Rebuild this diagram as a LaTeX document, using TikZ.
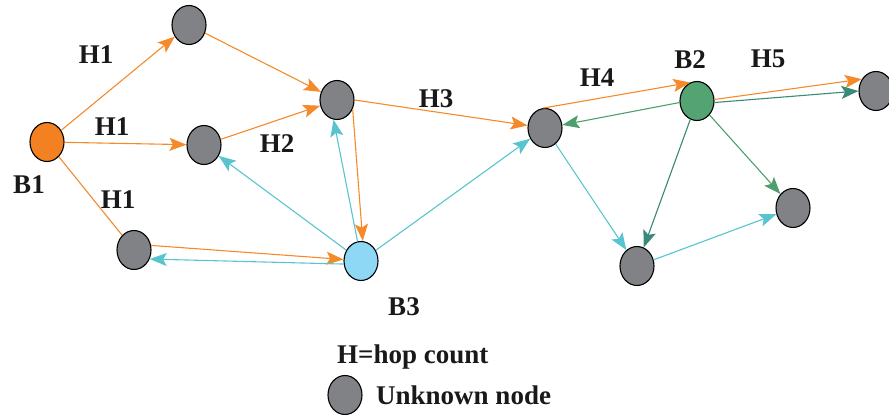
\documentclass[tikz,border=0pt]{standalone}
\usepackage{fontspec}
\setmainfont{Liberation Serif}
\usetikzlibrary{shapes.geometric,arrows.meta}
\definecolor{orng}{HTML}{F58A2B}
\definecolor{orfill}{HTML}{F38121}
\definecolor{cyn}{HTML}{57C4CF}
\definecolor{b3fill}{HTML}{8ED8F5}
\definecolor{b2fill}{HTML}{53A373}
\definecolor{grn}{HTML}{4E9E6E}
\definecolor{teal2}{HTML}{3A8A7A}
\definecolor{gfill}{HTML}{808285}
\tikzset{
  nd/.style={ellipse,draw=black,line width=1.1pt,minimum width=34pt,minimum height=39pt,inner sep=0pt,fill=gfill},
  lab/.style={font=\fontsize{27}{29}\selectfont\bfseries,inner sep=0pt,text=black!90},
  ar/.style={line width=1.1pt,-{Stealth[length=17pt,width=13pt,inset=3.5pt]}},
  ol/.style={ar,orng},
  cl/.style={ar,cyn},
  gl/.style={ar,grn},
  tl/.style={ar,teal2},
}
\begin{document}
\begin{tikzpicture}[x=1pt,y=-1pt]
\useasboundingbox (0,0) rectangle (889,415);
% nodes
\node[nd,fill=orfill] (B1) at (47,142) {};
\node[nd] (n1) at (189,25) {};
\node[nd] (n2) at (204,145) {};
\node[nd] (n3) at (337,100) {};
\node[nd] (n4) at (134,250) {};
\node[nd,fill=b3fill] (B3) at (361,261) {};
\node[nd] (n5) at (545,128) {};
\node[nd,fill=b2fill] (B2) at (697,101) {};
\node[nd] (n6) at (876,91) {};
\node[nd] (n7) at (793,208) {};
\node[nd] (n8) at (637,266) {};
\node[nd] (lg) at (345,395) {};
% labels
\node[lab] (h1a) at (96,55) {H1};
\node[lab] (h1b) at (112,127) {H1};
\node[lab] (h1c) at (118,200) {H1};
\node[lab] (h2) at (277,144) {H2};
\node[lab] (h3) at (436,99) {H3};
\node[lab] (h4) at (597,78) {H4};
\node[lab] (h5) at (768,59) {H5};
\node[lab] (b1l) at (29,185) {B1};
\node[lab] (b2l) at (690,60) {B2};
\node[lab] (b3l) at (404,307) {B3};
\node[lab,anchor=west] (hl) at (337,357) {H=hop count};
\node[lab,anchor=west] (ul) at (376,395) {Unknown node};
% orange
\draw[ol] (B1) -- (n1);
\draw[ol] (B1) -- (n2);
\draw[orng,line width=1.1pt] (B1) -- (n4);
\draw[ol] (n1) -- (n3);
\draw[ol] (n2) -- (n3);
\draw[ol] (n3.-30) -- (B3.85);
\draw[ol] (n3.east) -- (n5);
\draw[ol] (n4.15) -- (B3.175);
\draw[ol] (n5.95) -- (B2.110);
\draw[ol] (B2.5) -- (n6.140);
% cyan
\draw[cl] (B3.100) -- (n3.-100);
\draw[cl] (B3) -- (n2);
\draw[cl] (B3.190) -- (n4.-30);
\draw[cl] (B3) -- (n5);
\draw[cl] (n5) -- (n8);
\draw[cl] (n8) -- (n7);
% green
\draw[gl] (B2.185) -- (n5.10);
\draw[tl] (B2.-5) -- (n6.180);
\draw[tl] (B2) -- (n8);
\draw[gl] (B2) -- (n7);
\end{tikzpicture}
\end{document}
